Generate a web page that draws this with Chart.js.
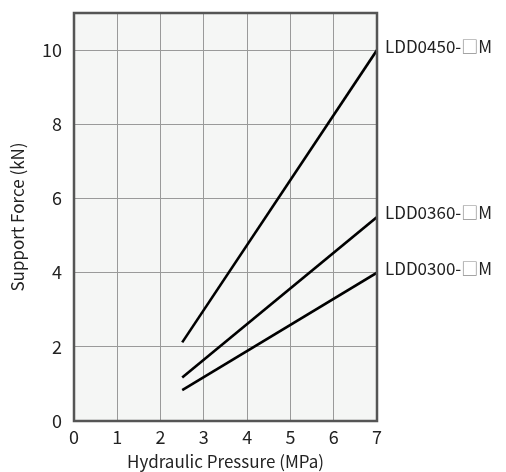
<!DOCTYPE html>
<html>
<head>
<meta charset="utf-8">
<script src="https://cdn.jsdelivr.net/npm/chart.js@4.4.1/dist/chart.umd.min.js"></script>
<style>
  html, body { margin: 0; padding: 0; background: #fff; }
  #wrap { width: 506px; height: 472px; position: relative; }
</style>
</head>
<body>
<div id="wrap"><canvas id="c"></canvas></div>
<script>
const pressure = [2.5, 7];
const ldd0450 = [2.12, 10.0];
const ldd0360 = [1.17, 5.5];
const ldd0300 = [0.83, 4.0];
const seriesNames = ["LDD0450-\u25A1M", "LDD0360-\u25A1M", "LDD0300-\u25A1M"];

const font = "'Noto Sans CJK JP', 'Noto Sans', sans-serif";
const ink = "#222";

function pts(ys) {
  return pressure.map((x, i) => ({ x, y: ys[i] }));
}

const frame = {
  id: "frame",
  beforeDraw(chart) {
    const { ctx, chartArea: a } = chart;
    ctx.save();
    ctx.fillStyle = "#f5f6f5";
    ctx.fillRect(a.left, a.top, a.right - a.left, a.bottom - a.top);
    ctx.restore();
  },
  afterDatasetsDraw(chart) {
    const { ctx, chartArea: a } = chart;
    ctx.save();
    ctx.strokeStyle = "#555";
    ctx.lineWidth = 2.5;
    ctx.strokeRect(a.left, a.top, a.right - a.left, a.bottom - a.top);
    // series names at the right end of each line, the box glyph in grey
    ctx.font = "17px " + font;
    ctx.textBaseline = "middle";
    chart.data.datasets.forEach((ds) => {
      const last = ds.data[ds.data.length - 1];
      let px = chart.scales.x.getPixelForValue(last.x) + 8;
      const py = chart.scales.y.getPixelForValue(last.y) - 4;
      for (const ch of ds.label) {
        ctx.fillStyle = ch === "\u25A1" ? "#8a8a8a" : ink;
        ctx.fillText(ch, px, py);
        px += ctx.measureText(ch).width;
      }
    });
    ctx.restore();
  },
};

const line = (label, ys) => ({
  label,
  data: pts(ys),
  borderColor: "#000",
  borderWidth: 2.6,
  pointRadius: 0,
  fill: false,
  tension: 0,
});

new Chart(document.getElementById("c"), {
  type: "line",
  data: {
    datasets: [
      line(seriesNames[0], ldd0450),
      line(seriesNames[1], ldd0360),
      line(seriesNames[2], ldd0300),
    ],
  },
  plugins: [frame],
  options: {
    responsive: true,
    maintainAspectRatio: false,
    animation: false,
    layout: { padding: { left: 7, right: 129, top: 13, bottom: 0 } },
    plugins: { legend: { display: false }, tooltip: { enabled: false } },
    scales: {
      x: {
        type: "linear",
        min: 0,
        max: 7,
        ticks: { stepSize: 1, color: ink, font: { family: font, size: 18 }, padding: 5 },
        grid: { color: "#9a9a9a", lineWidth: 1, drawTicks: false },
        border: { display: false },
        title: { display: true, text: "Hydraulic Pressure (MPa)", color: ink, font: { family: font, size: 17 }, padding: 0 },
        afterFit(s) { s.height = 51; },
      },
      y: {
        min: 0,
        max: 11,
        ticks: {
          stepSize: 2,
          color: ink,
          font: { family: font, size: 18 },
          padding: 12,
          callback: (v) => (v === 11 ? null : v),
        },
        grid: { color: "#9a9a9a", lineWidth: 1, drawTicks: false },
        border: { display: false },
        title: { display: true, text: "Support Force (kN)", color: ink, font: { family: font, size: 17 }, padding: 0 },
        afterFit(s) {
          s.width = 67;
          s.paddingTop = 0;
          s.paddingBottom = 0;
        },
      },
    },
  },
});
</script>
</body>
</html>
